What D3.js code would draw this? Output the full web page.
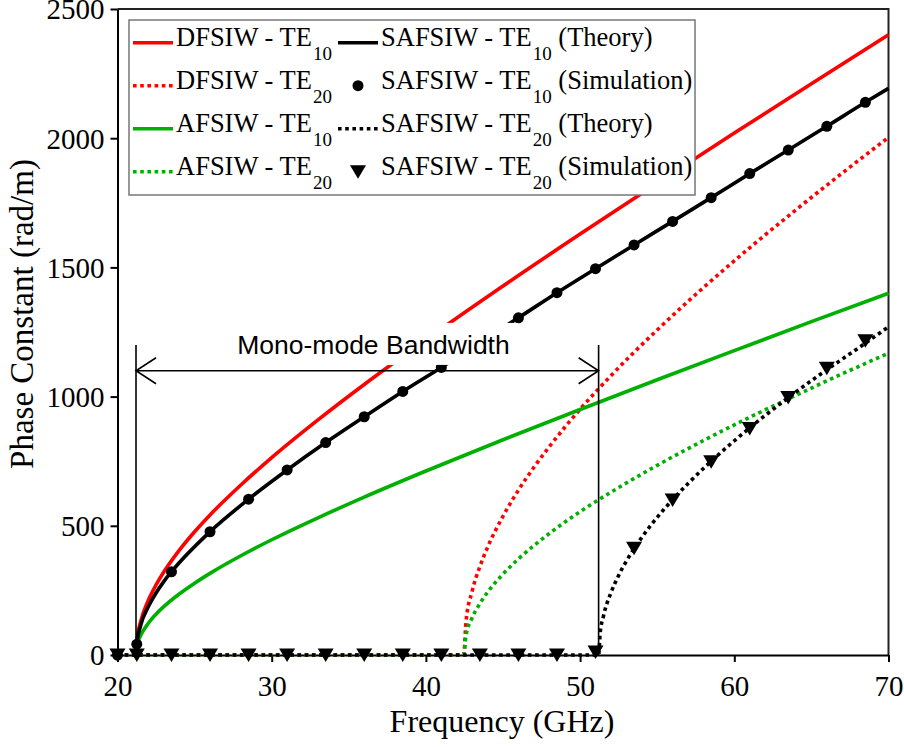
<!DOCTYPE html>
<html lang="en">
<head>
  <meta charset="UTF-8">
  <script src="https://d3js.org/d3.v7.min.js"></script>
  <title>Phase constant</title>
  <style>
    body { margin: 0; background: #fff; }
    svg { display: block; }
  </style>
</head>
<body>
  <svg id="chart" width="904" height="747"></svg>

  <script>
    // TE10 theory curves (DFSIW, AFSIW), rad/m
    var te10Freq = [21.2, 21.3, 21.5, 22, 22.5, 23, 24, 25, 26, 28, 30, 33, 36, 40, 45, 50, 55, 60, 65, 70];
    var dfsiwTE10 = [0, 74, 129, 212, 271, 321, 405, 477, 542, 658, 764, 910, 1047, 1220, 1428, 1629, 1826, 2020, 2211, 2400];
    var afsiwTE10 = [0, 43, 75, 123, 158, 187, 236, 278, 316, 384, 446, 531, 611, 712, 833, 950, 1065, 1178, 1290, 1400];

    // TE20 theory curves (DFSIW, AFSIW)
    var te20Freq = [20, 42.45, 42.6, 43, 43.5, 44, 45, 46, 47, 48, 50, 52, 55, 58, 61, 64, 67, 70];
    var dfsiwTE20 = [0, 0, 128, 247, 342, 417, 537, 638, 726, 806, 951, 1081, 1258, 1422, 1576, 1723, 1865, 2003];
    var afsiwTE20 = [0, 0, 75, 144, 199, 243, 313, 372, 423, 470, 555, 630, 734, 830, 920, 1005, 1088, 1168];

    // SAFSIW theory
    var safTE10Freq = [21.2, 21.25, 21.5, 22, 22.5, 23, 23.5, 26, 28.5, 31, 33.5, 36, 38.5, 41, 43.5, 46, 48.5, 51, 53.5, 56, 58.5, 61, 63.5, 66, 68.5, 70];
    var safsiwTE10 = [0, 42, 114, 187, 240, 284, 322, 477, 603, 716, 822, 922, 1020, 1113, 1210, 1305, 1402, 1495, 1587, 1678, 1770, 1863, 1954, 2046, 2139, 2193];
    var safTE20Freq = [20, 51.2, 51.3, 51.5, 52, 52.5, 53, 54, 55, 56, 58, 60, 62, 64, 66, 68, 70];
    var safsiwTE20 = [0, 0, 85, 147, 241, 308, 363, 455, 533, 601, 722, 829, 927, 1018, 1104, 1186, 1270];

    // SAFSIW simulation points
    var simFreq = [20, 21.25, 23.5, 26, 28.5, 31, 33.5, 36, 38.5, 41, 43.5, 46, 48.5, 51, 53.5, 56, 58.5, 61, 63.5, 66, 68.5];
    var safsiwTE10Sim = [0, 42, 322, 477, 603, 716, 822, 922, 1020, 1113, 1210, 1305, 1402, 1495, 1587, 1678, 1770, 1863, 1954, 2046, 2139];
    var safsiwTE20Sim = [0, 0, 0, 0, 0, 0, 0, 0, 0, 0, 0, 0, 0, 12, 413, 600, 748, 877, 997, 1110, 1216];

    var xTicks = [20, 30, 40, 50, 60, 70];
    var yTicks = [0, 500, 1000, 1500, 2000, 2500];

    // mono-mode band edges (GHz) and annotation levels (rad/m)
    var bandEdges = [21.2, 51.2];
    var bandTop = 1200, bandArrow = 1100;

    var serif = "'Liberation Serif', 'Times New Roman', serif";
    var sans = "'Liberation Sans', Arial, sans-serif";

    var svg = d3.select("#chart");

    var x = d3.scaleLinear().domain([20, 70]).range([117.5, 888.5]);
    var y = d3.scaleLinear().domain([0, 2500]).range([655, 9]);

    var zip = function(fs, vs) { return fs.map(function(f, i) { return [f, vs[i]]; }); };
    var line = d3.line()
      .x(function(d) { return x(d[0]); })
      .y(function(d) { return y(d[1]); })
      .curve(d3.curveMonotoneX);

    // frame top / right
    svg.append("path")
      .attr("d", "M" + x(20) + "," + y(2500) + "H" + x(70) + "V" + y(0))
      .attr("fill", "none").attr("stroke", "#222").attr("stroke-width", 2);

    // axes
    var gx = svg.append("g")
      .attr("transform", "translate(0," + y(0) + ")")
      .call(d3.axisBottom(x).tickValues(xTicks).tickSize(7).tickSizeOuter(0).tickPadding(13).tickFormat(d3.format("d")));
    var gy = svg.append("g")
      .attr("transform", "translate(" + x(20) + ",0)")
      .call(d3.axisLeft(y).tickValues(yTicks).tickSize(7).tickSizeOuter(0).tickPadding(6).tickFormat(d3.format("d")));
    [gx, gy].forEach(function(g) {
      g.selectAll("path, line").attr("stroke", "#000").attr("stroke-width", 2);
      g.selectAll("text").attr("font-family", serif).attr("font-size", 29).attr("fill", "#000");
    });
    gy.selectAll("text").attr("dy", "0.34em");

    svg.append("text")
      .attr("x", 502).attr("y", 732)
      .attr("text-anchor", "middle")
      .attr("font-family", serif).attr("font-size", 32)
      .text("Frequency (GHz)");
    svg.append("text")
      .attr("transform", "translate(33,314) rotate(-90)")
      .attr("text-anchor", "middle")
      .attr("font-family", serif).attr("font-size", 33)
      .text("Phase Constant (rad/m)");

    // series
    var series = [
      { f: te20Freq, v: dfsiwTE20, color: "#ff0000", dash: true },
      { f: te20Freq, v: afsiwTE20, color: "#00b000", dash: true },
      { f: te10Freq, v: dfsiwTE10, color: "#ff0000", dash: false },
      { f: te10Freq, v: afsiwTE10, color: "#00b000", dash: false },
      { f: safTE10Freq, v: safsiwTE10, color: "#000", dash: false },
      { f: safTE20Freq, v: safsiwTE20, color: "#000", dash: true }
    ];
    svg.append("g").selectAll("path")
      .data(series)
      .enter()
      .append("path")
        .attr("d", function(s) { return line(zip(s.f, s.v)); })
        .attr("fill", "none")
        .attr("stroke", function(s) { return s.color; })
        .attr("stroke-width", 3.6)
        .attr("stroke-dasharray", function(s) { return s.dash ? "3.6,3.6" : null; });

    var tri = "M-8,-6.5L8,-6.5L0,7Z";

    svg.append("g").selectAll("circle")
      .data(zip(simFreq, safsiwTE10Sim))
      .enter()
      .append("circle")
        .attr("cx", function(d) { return x(d[0]); })
        .attr("cy", function(d) { return y(d[1]); })
        .attr("r", 5.5)
        .attr("fill", "#000");

    svg.append("g").selectAll("path")
      .data(zip(simFreq, safsiwTE20Sim))
      .enter()
      .append("path")
        .attr("d", tri)
        .attr("transform", function(d) { return "translate(" + x(d[0]) + "," + y(d[1]) + ")"; })
        .attr("fill", "#000");

    // mono-mode bandwidth annotation
    var ann = svg.append("g");
    var label = ann.append("text")
      .attr("x", x(36.6)).attr("y", y(bandTop) + 9)
      .attr("text-anchor", "middle")
      .attr("font-family", sans).attr("font-size", 26.5)
      .text("Mono-mode Bandwidth");
    var bb = label.node().getBBox();
    ann.insert("rect", "text")
      .attr("x", bb.x - 8).attr("y", y(bandTop) - 22)
      .attr("width", bb.width + 16).attr("height", 42)
      .attr("fill", "#fff");
    ann.selectAll("line.edge")
      .data(bandEdges)
      .enter()
      .append("line")
        .attr("class", "edge")
        .attr("x1", function(d) { return x(d); }).attr("x2", function(d) { return x(d); })
        .attr("y1", y(bandTop)).attr("y2", y(0))
        .attr("stroke", "#000").attr("stroke-width", 1.6);
    var ya = y(bandArrow), xl = x(bandEdges[0]), xr = x(bandEdges[1]);
    ann.append("path")
      .attr("d", "M" + xl + "," + ya + "H" + xr +
        "M" + (xl + 20) + "," + (ya - 13) + "L" + xl + "," + ya + "L" + (xl + 20) + "," + (ya + 13) +
        "M" + (xr - 20) + "," + (ya - 13) + "L" + xr + "," + ya + "L" + (xr - 20) + "," + (ya + 13))
      .attr("fill", "none").attr("stroke", "#000").attr("stroke-width", 1.6);

    // legend
    var legend = svg.append("g");
    legend.append("rect")
      .attr("x", 129).attr("y", 20).attr("width", 566).attr("height", 175)
      .attr("fill", "#fff").attr("stroke", "#777").attr("stroke-width", 1.5);

    var legendItems = [
      { col: 0, row: 0, name: "DFSIW - TE", sub: "10", tail: "", color: "#ff0000", kind: "solid" },
      { col: 0, row: 1, name: "DFSIW - TE", sub: "20", tail: "", color: "#ff0000", kind: "dot" },
      { col: 0, row: 2, name: "AFSIW - TE", sub: "10", tail: "", color: "#00b000", kind: "solid" },
      { col: 0, row: 3, name: "AFSIW - TE", sub: "20", tail: "", color: "#00b000", kind: "dot" },
      { col: 1, row: 0, name: "SAFSIW - TE", sub: "10", tail: " (Theory)", color: "#000", kind: "solid" },
      { col: 1, row: 1, name: "SAFSIW - TE", sub: "10", tail: " (Simulation)", color: "#000", kind: "circle" },
      { col: 1, row: 2, name: "SAFSIW - TE", sub: "20", tail: " (Theory)", color: "#000", kind: "dot" },
      { col: 1, row: 3, name: "SAFSIW - TE", sub: "20", tail: " (Simulation)", color: "#000", kind: "tri" }
    ];
    var colX = [133, 338];

    legendItems.forEach(function(it) {
      var x0 = colX[it.col], ly = 42.7 + it.row * 43;
      if (it.kind === "solid" || it.kind === "dot") {
        legend.append("line")
          .attr("x1", x0).attr("x2", x0 + 40).attr("y1", ly).attr("y2", ly)
          .attr("stroke", it.color).attr("stroke-width", 3.6)
          .attr("stroke-dasharray", it.kind === "dot" ? "3.6,3.6" : null);
      } else if (it.kind === "circle") {
        legend.append("circle").attr("cx", x0 + 20).attr("cy", ly).attr("r", 5.5).attr("fill", "#000");
      } else {
        legend.append("path").attr("d", tri).attr("transform", "translate(" + (x0 + 20) + "," + ly + ")").attr("fill", "#000");
      }
      var t = legend.append("text")
        .attr("x", x0 + 43).attr("y", ly + 3)
        .attr("font-family", serif).attr("font-size", 26.5);
      t.append("tspan").text(it.name);
      t.append("tspan").attr("dy", 14).attr("dx", 1).attr("font-size", 19).text(it.sub);
      if (it.tail) t.append("tspan").attr("dy", -14).text(it.tail);
    });
  </script>
</body>
</html>
